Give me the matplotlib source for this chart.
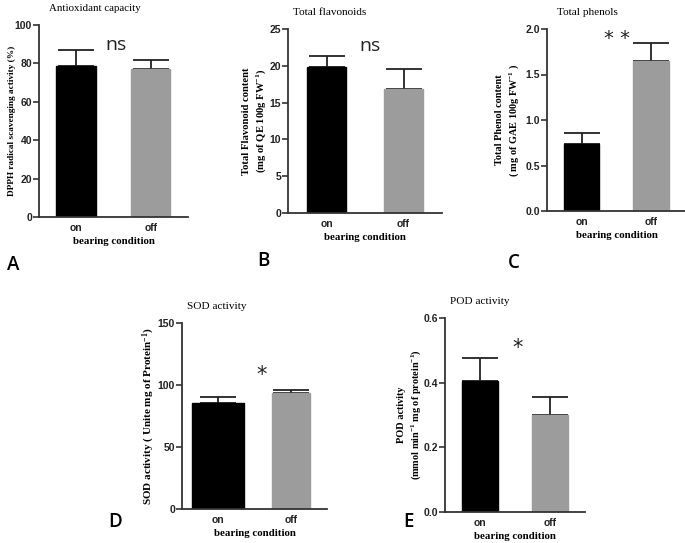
import matplotlib.pyplot as plt
from matplotlib.ticker import FormatStrFormatter

# Data
groups = ["on", "off"]

dpph_mean = [78.5, 77.0]
dpph_err = [8.5, 5.0]

flav_mean = [19.9, 16.9]
flav_err = [1.4, 2.6]

phenol_mean = [0.74, 1.65]
phenol_err = [0.12, 0.20]

sod_mean = [85.5, 93.5]
sod_err = [5.0, 2.5]

pod_mean = [0.405, 0.30]
pod_err = [0.07, 0.055]

plt.rcParams['mathtext.default'] = 'regular'

W, H = 685, 543
fig = plt.figure(figsize=(W / 100, H / 100), dpi=100)

serif = 'Liberation Serif'
sans = 'Liberation Sans'


def make_axes(l, t, r, b):
    return fig.add_axes([l / W, 1 - b / H, (r - l) / W, (b - t) / H])


def panel(box, means, errs, ylim, yticks, fmt, title, ylabel, ylab_size,
          ylab_x, sig, sig_x, sig_y, sig_font, sig_size, widths,
          title_x=0.5, title_size=8):
    ax = make_axes(*box)
    x = [0, 1]
    colors = ['black', '#9c9c9c']
    for i in range(2):
        ax.bar(x[i], means[i], width=widths[i], color=colors[i],
               edgecolor=colors[i], zorder=2)
        ax.errorbar(x[i], means[i], yerr=[[0], [errs[i]]], fmt='none',
                    ecolor='#222222', elinewidth=1.3, capsize=13,
                    capthick=1.3, zorder=1)
    ax.set_xlim(-0.5, 1.5)
    ax.set_ylim(*ylim)
    ax.set_yticks(yticks)
    if fmt:
        ax.yaxis.set_major_formatter(FormatStrFormatter(fmt))
    ax.set_xticks(x)
    ax.set_xticklabels(groups)
    for s in ['top', 'right']:
        ax.spines[s].set_visible(False)
    for s in ['left', 'bottom']:
        ax.spines[s].set_linewidth(1.3)
        ax.spines[s].set_color('#333333')
    ax.tick_params(axis='y', length=4, width=1.2, color='#333333', pad=1)
    ax.tick_params(axis='x', length=0, pad=4)
    for lab in ax.get_xticklabels() + ax.get_yticklabels():
        lab.set_fontfamily(sans)
        lab.set_fontweight('bold')
        lab.set_fontsize(7.5)
        lab.set_color('#222222')
    ax.set_xlabel("bearing condition", fontfamily=serif, fontweight='bold',
                  fontsize=7.8, labelpad=3)
    ax.set_ylabel(ylabel, fontfamily=serif, fontweight='bold',
                  fontsize=ylab_size, linespacing=1.3)
    ax.yaxis.set_label_coords(ylab_x, 0.5)
    ax.set_title(title, fontfamily=serif, fontsize=title_size, x=title_x,
                 pad=10)
    ax.text(sig_x, sig_y, sig, ha='center', va='center',
            transform=ax.transAxes,
            fontfamily=sig_font, fontsize=sig_size, color='#222222')
    return ax


# A
panel((39, 25, 188, 217), dpph_mean, dpph_err, (0, 100), range(0, 101, 20),
      None, "Antioxidant capacity", "DPPH radical scavenging activity (%)",
      6.7, -0.154, "ns", 0.52, 0.895, 'Open Sans', 14, [0.54, 0.53],
      title_x=0.376, title_size=7.8)
# B
panel((288, 29, 442, 213), flav_mean, flav_err, (0, 25), range(0, 26, 5),
      None, "Total flavonoids",
      "Total Flavonoid content\n(mg of QE 100g FW$^{-1}$)",
      7.7, -0.13, "ns", 0.53, 0.91, 'Open Sans', 14, [0.5, 0.5],
      title_x=0.27, title_size=8.1)
# C
panel((547, 29, 686, 211), phenol_mean, phenol_err, (0, 2.0),
      [0, 0.5, 1.0, 1.5, 2.0], '%.1f', "Total phenols",
      "Total Phenol content\n( mg of GAE 100g FW$^{-1}$ )",
      7.4, -0.187, "* *", 0.5, 0.95, 'DejaVu Sans', 14, [0.5, 0.52],
      title_x=0.29, title_size=8.1)
# D
panel((182, 323, 327, 509), sod_mean, sod_err, (0, 150), [0, 50, 100, 150],
      None, "SOD activity", "SOD activity ( Unite mg of Protein$^{-1}$)",
      8, -0.172, "*", 0.55, 0.72, 'DejaVu Sans', 15, [0.72, 0.52],
      title_x=0.24, title_size=8.1)
# E
panel((445, 318, 585, 512), pod_mean, pod_err, (0, 0.6),
      [0.0, 0.2, 0.4, 0.6], '%.1f', "POD activity",
      "POD activity\n(mmol min$^{-1}$ mg of protein$^{-1}$)",
      7.4, -0.157, "*", 0.52, 0.845, 'DejaVu Sans', 15, [0.52, 0.52],
      title_x=0.25, title_size=8.1)

# panel letters
for letter, px, py in [("A", 7, 265), ("B", 257, 261), ("C", 508, 263),
                       ("D", 108, 522), ("E", 403, 522)]:
    fig.text(px / W, 1 - py / H, letter, fontfamily='Open Sans',
             fontweight='semibold', fontsize=13.5, va='center', ha='left')

fig.savefig("out.png", dpi=100)
